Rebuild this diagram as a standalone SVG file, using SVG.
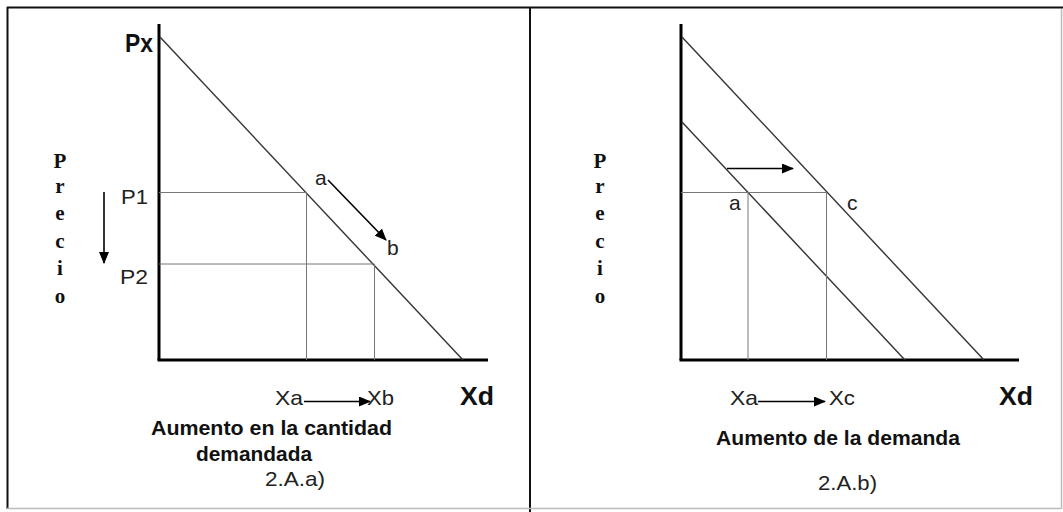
<svg xmlns="http://www.w3.org/2000/svg" width="1063" height="512" viewBox="0 0 1063 512">
<defs>
<style>
.frame{stroke:#111;stroke-width:2;fill:none}
.framelight{stroke:#bbb;stroke-width:1.5;fill:none}
.axis{stroke:#000;stroke-width:3;fill:none}
.demand{stroke:#333;stroke-width:1.4;fill:none}
.guide{stroke:#777;stroke-width:1;fill:none}
.arrow{stroke:#000;stroke-width:1.6;fill:none;marker-end:url(#ah)}
.lbl{font-family:"Liberation Sans",Arial,sans-serif;font-size:21px;fill:#222}
.big{font-family:"Liberation Sans",Arial,sans-serif;font-size:26px;font-weight:bold;fill:#111}
.title{font-family:"Liberation Sans",Arial,sans-serif;font-size:21px;font-weight:bold;fill:#111}
.vert{font-family:"Liberation Serif","Times New Roman",serif;font-size:21px;font-weight:bold;fill:#111;text-anchor:middle}
</style>
<marker id="ah" viewBox="0 0 12 10" refX="11" refY="5" markerWidth="12" markerHeight="10" markerUnits="userSpaceOnUse" orient="auto">
<path d="M0,0 L12,5 L0,10 Z" fill="#000"/>
</marker>
</defs>

<g id="frame">
<line class="frame" x1="7" y1="7.5" x2="1063" y2="7.5"/>
<line class="frame" x1="7.5" y1="7" x2="7.5" y2="509"/>
<line class="frame" x1="530" y1="7" x2="530" y2="512"/>
<line class="framelight" x1="1061.5" y1="9" x2="1061.5" y2="509"/>
<line class="framelight" x1="7" y1="508.5" x2="1061" y2="508.5"/>
</g>

<g id="chart-left">
<line class="axis" x1="159" y1="24" x2="159" y2="360"/>
<line class="axis" x1="157.5" y1="360" x2="488" y2="360"/>
<line class="demand" x1="160" y1="37" x2="463" y2="360"/>
<line class="guide" x1="159" y1="192.5" x2="306.5" y2="192.5"/>
<line class="guide" x1="306.5" y1="192.5" x2="306.5" y2="360"/>
<line class="guide" x1="159" y1="264" x2="374.5" y2="264"/>
<line class="guide" x1="374.5" y1="264" x2="374.5" y2="360"/>
<text class="big" x="125" y="52" font-size="25" textLength="28" lengthAdjust="spacingAndGlyphs">Px</text>
<text class="big" x="460" y="405" textLength="34" lengthAdjust="spacingAndGlyphs">Xd</text>
<text class="lbl" x="121" y="204" textLength="27" lengthAdjust="spacingAndGlyphs">P1</text>
<text class="lbl" x="120" y="284" textLength="28" lengthAdjust="spacingAndGlyphs">P2</text>
<text class="lbl" x="315" y="185" font-size="22">a</text>
<text class="lbl" x="387" y="255" font-size="22">b</text>
<text class="lbl" x="275" y="405" textLength="28" lengthAdjust="spacingAndGlyphs">Xa</text>
<text class="lbl" x="367" y="405" textLength="27" lengthAdjust="spacingAndGlyphs">Xb</text>
<text class="title" x="151" y="435" textLength="241" lengthAdjust="spacingAndGlyphs">Aumento en la cantidad</text>
<text class="title" x="196" y="461" textLength="116" lengthAdjust="spacingAndGlyphs">demandada</text>
<text class="lbl" x="265" y="486" font-size="20" textLength="60" lengthAdjust="spacingAndGlyphs">2.A.a)</text>
<g id="precio-left">
<text class="vert" x="60" y="168">P</text>
<text class="vert" x="60" y="193">r</text>
<text class="vert" x="60" y="220">e</text>
<text class="vert" x="60" y="248">c</text>
<text class="vert" x="60" y="275">i</text>
<text class="vert" x="60" y="303">o</text>
</g>
</g>

<g id="chart-right">
<line class="axis" x1="681" y1="24" x2="681" y2="360"/>
<line class="axis" x1="679.5" y1="360" x2="1019" y2="360"/>
<line class="demand" x1="682" y1="37" x2="984" y2="360"/>
<line class="demand" x1="682" y1="122" x2="905" y2="360"/>
<line class="guide" x1="681" y1="192.5" x2="826.5" y2="192.5"/>
<line class="guide" x1="748" y1="192.5" x2="748" y2="360"/>
<line class="guide" x1="826.5" y1="192.5" x2="826.5" y2="360"/>
<text class="big" x="999" y="405" textLength="34" lengthAdjust="spacingAndGlyphs">Xd</text>
<text class="lbl" x="729" y="210" font-size="22">a</text>
<text class="lbl" x="847" y="210" font-size="22">c</text>
<text class="lbl" x="730" y="405" textLength="28" lengthAdjust="spacingAndGlyphs">Xa</text>
<text class="lbl" x="829" y="405" textLength="26" lengthAdjust="spacingAndGlyphs">Xc</text>
<text class="title" x="716" y="445" textLength="244" lengthAdjust="spacingAndGlyphs">Aumento de la demanda</text>
<text class="lbl" x="818" y="490" font-size="20" textLength="59" lengthAdjust="spacingAndGlyphs">2.A.b)</text>
<g id="precio-right">
<text class="vert" x="600" y="168">P</text>
<text class="vert" x="600" y="193">r</text>
<text class="vert" x="600" y="220">e</text>
<text class="vert" x="600" y="248">c</text>
<text class="vert" x="600" y="275">i</text>
<text class="vert" x="600" y="303">o</text>
</g>
</g>

<g id="connectors">
<line class="arrow" x1="104" y1="192" x2="104" y2="263"/>
<line class="arrow" x1="328" y1="180" x2="386" y2="240"/>
<line class="arrow" x1="304" y1="401.5" x2="370" y2="401.5"/>
<line class="arrow" x1="727" y1="168.5" x2="793" y2="168.5"/>
<line class="arrow" x1="758" y1="401.5" x2="825" y2="401.5"/>
</g>
</svg>
